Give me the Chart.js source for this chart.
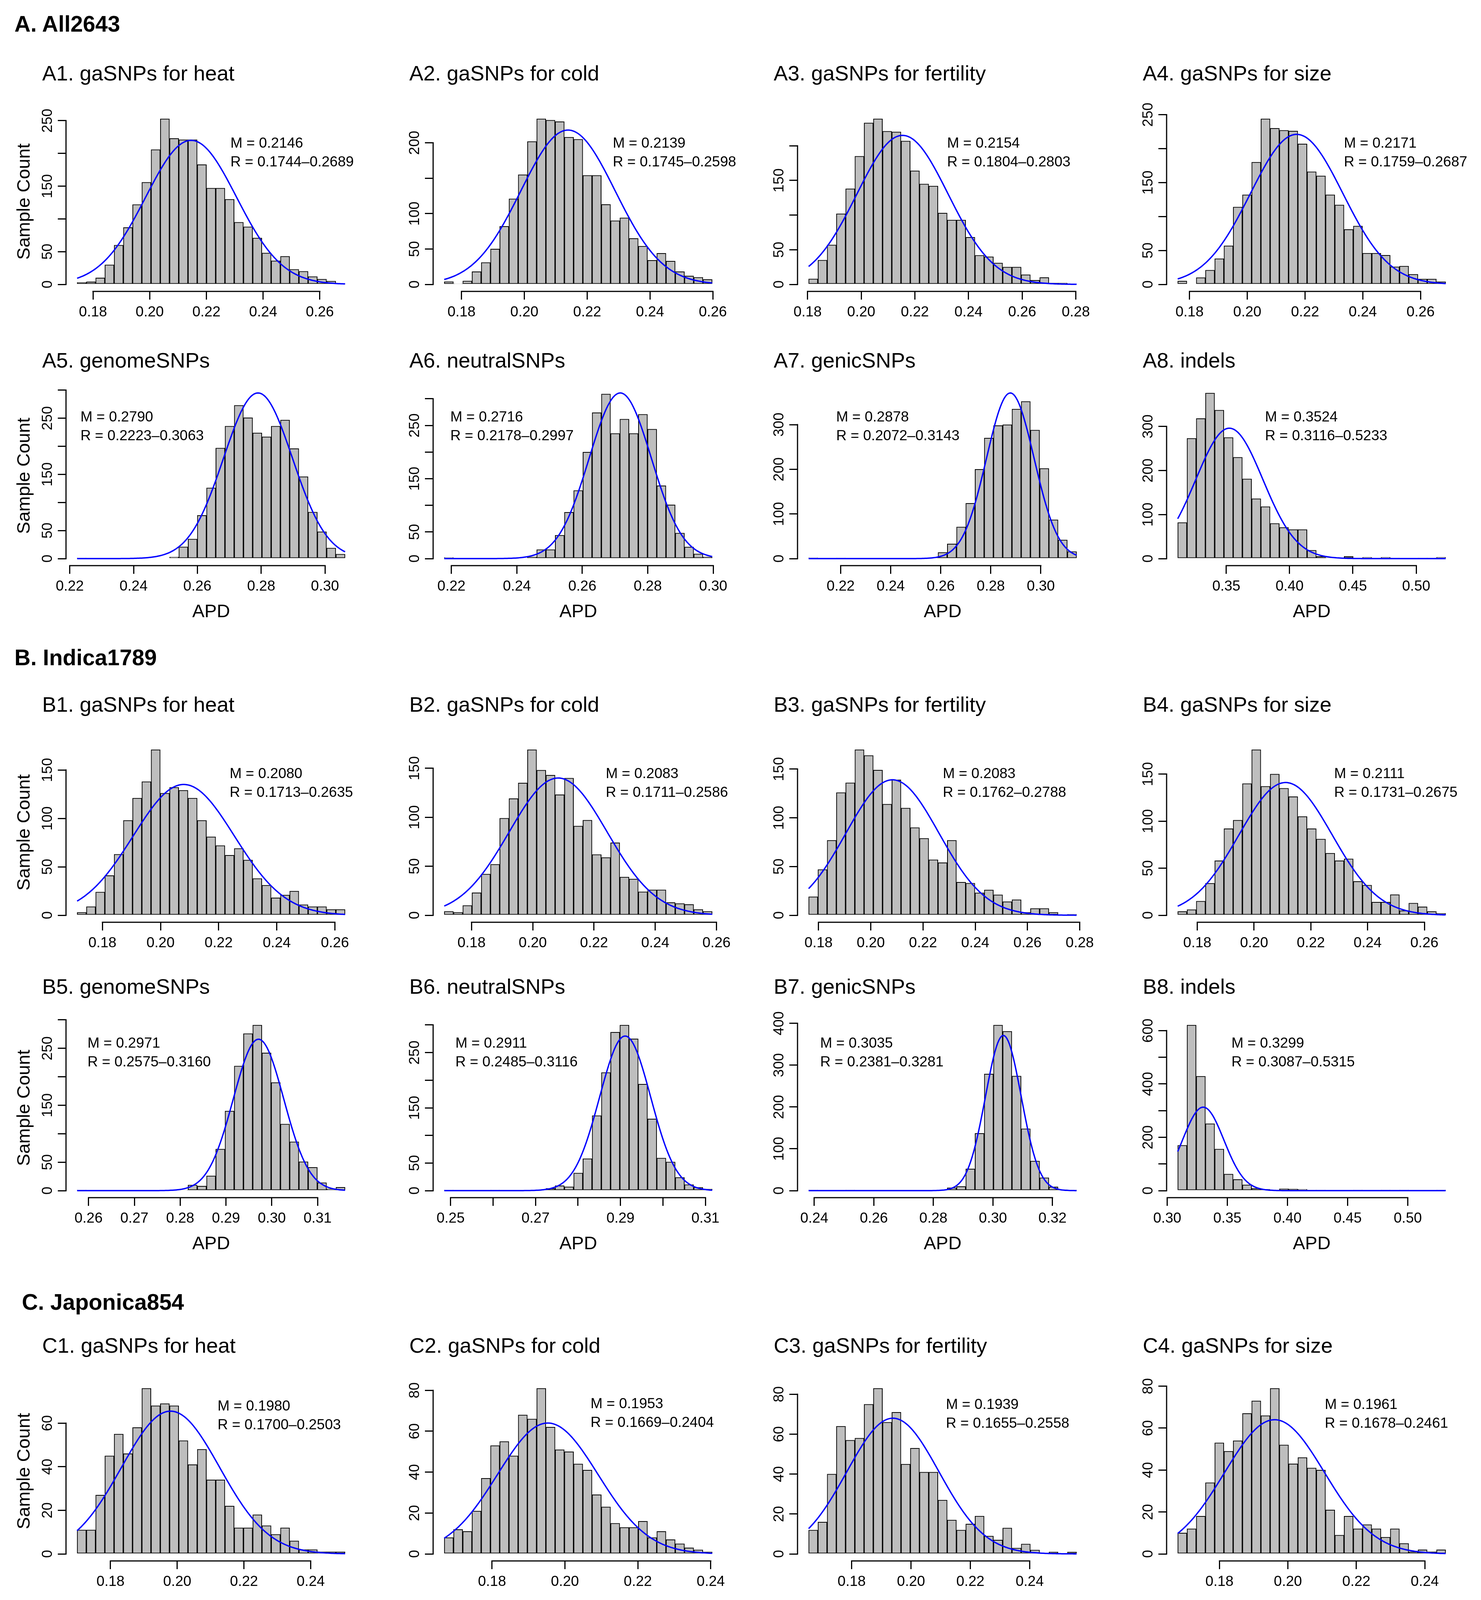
<!DOCTYPE html>
<html><head><meta charset="utf-8">
<script src="https://cdn.jsdelivr.net/npm/chart.js@4.4.1/dist/chart.umd.min.js"></script>
<style>
html,body{margin:0;padding:0;background:#fff;}
body{width:3792px;height:4872px;position:relative;overflow:hidden;font-family:'Liberation Sans',Arial,sans-serif;}
.sec{position:absolute;font-weight:bold;font-size:57px;line-height:1;white-space:nowrap;color:#000;}
.ptitle{position:absolute;font-size:54px;line-height:1;white-space:nowrap;color:#000;}
canvas{position:absolute;}
</style></head><body>
<script>
// ---------------- DATA ----------------
const sectionTitles = ['A. All2643', 'B. Indica1789', 'C. Japonica854'];
const panelTitles = [
  'A1. gaSNPs for heat','A2. gaSNPs for cold','A3. gaSNPs for fertility','A4. gaSNPs for size',
  'A5. genomeSNPs','A6. neutralSNPs','A7. genicSNPs','A8. indels',
  'B1. gaSNPs for heat','B2. gaSNPs for cold','B3. gaSNPs for fertility','B4. gaSNPs for size',
  'B5. genomeSNPs','B6. neutralSNPs','B7. genicSNPs','B8. indels',
  'C1. gaSNPs for heat','C2. gaSNPs for cold','C3. gaSNPs for fertility','C4. gaSNPs for size',
  'C5. genomeSNPs','C6. neutralSNPs','C7. genicSNPs','C8. indels'
];
// sample counts per histogram bin (29 equal bins between the min and max APD)
const countsA1 = [3,4,10,30,60,87,122,156,206,253,223,221,221,183,147,147,130,95,88,71,48,36,43,23,20,12,8,5,1];
const countsA2 = [4,1,5,18,31,50,82,121,155,202,234,232,230,208,205,154,154,113,90,94,65,54,34,44,33,18,12,10,7];
const countsA3 = [8,35,57,102,138,185,233,239,221,220,207,164,145,142,103,93,93,68,42,40,31,25,25,14,6,10,2,2,1];
const countsA4 = [5,0,10,21,38,57,114,132,180,244,230,227,226,207,166,160,132,117,81,86,46,46,43,26,27,15,8,8,4];
const countsA5 = [1,0,0,0,0,0,0,0,0,0,3,21,35,77,126,197,236,273,251,224,217,236,247,196,146,83,48,19,8];
const countsA6 = [2,0,0,0,0,0,0,0,0,3,17,17,44,87,128,200,274,309,235,262,235,271,243,137,101,48,22,9,3];
const countsA7 = [2,0,0,1,0,0,0,0,0,0,0,0,0,2,14,33,71,124,200,270,298,300,335,352,288,202,87,42,16];
const countsA8 = [82,273,318,376,337,275,230,181,136,118,80,71,66,66,19,5,2,1,5,1,3,1,3,1,0,0,1,1,3];
const countsB1 = [3,9,24,41,63,98,121,138,171,126,132,129,121,98,81,72,62,69,57,38,31,18,21,25,11,9,9,6,6];
const countsB2 = [4,3,10,23,42,52,99,119,135,169,148,143,123,140,91,97,62,59,74,39,37,24,26,26,13,12,11,6,4];
const countsB3 = [19,47,77,126,136,170,164,149,114,139,110,90,79,57,54,77,34,33,23,26,21,14,16,3,7,7,3,0,1];
const countsB4 = [4,6,15,34,58,92,101,140,176,137,150,135,126,105,92,81,66,58,60,36,32,14,14,22,5,13,9,4,2];
const countsB5 = [1,0,0,0,0,0,0,0,0,0,0,1,10,8,26,73,140,219,276,291,242,190,117,86,51,41,14,3,6];
const countsB6 = [1,0,0,0,0,1,0,0,0,0,1,4,9,7,32,58,136,214,287,300,275,193,130,59,52,24,11,6,3];
const countsB7 = [1,0,0,0,1,0,0,0,0,0,0,0,0,0,1,7,10,52,137,279,396,381,274,148,71,31,9,2,1];
const countsB8 = [170,621,429,251,156,62,42,22,9,5,3,7,6,5,1,1,0,0,0,1,0,0,1,0,1,0,0,0,1];
const countsC1 = [11,11,27,45,55,46,58,76,68,69,68,52,41,48,34,34,22,12,12,18,13,9,12,6,2,2,1,1,1];
const countsC2 = [8,12,11,21,37,53,55,48,68,66,81,62,51,50,44,41,29,23,15,13,13,16,8,11,7,5,3,2,1];
const countsC3 = [12,16,40,64,57,58,75,83,66,71,45,53,41,41,27,17,12,15,19,9,7,13,3,5,2,0,1,0,1];
const countsC4 = [10,12,18,34,53,49,54,67,73,66,79,52,43,46,41,40,21,9,18,12,14,12,8,12,5,1,2,1,2];
const countsC5 = [12,29,39,54,49,66,69,96,103,87,80,76,53,21,9,4,3,1,0,1,0,0,0,0,0,0,0,0,2];
const countsC6 = [12,27,36,47,55,63,71,100,102,90,83,64,53,28,12,3,3,2,1,1,0,0,0,0,0,0,0,0,2];
const countsC7 = [14,17,38,43,47,68,80,93,111,130,91,66,26,13,10,3,1,1,1,0,0,0,0,0,0,0,0,0,2];
const countsC8 = [94,110,92,107,110,112,86,51,27,31,14,6,3,6,2,0,0,2,0,0,1,0,0,0,0,0,0,0,1];

const meanAPD  = [0.2146,0.2139,0.2154,0.2171,0.2790,0.2716,0.2878,0.3524,
                  0.2080,0.2083,0.2083,0.2111,0.2971,0.2911,0.3035,0.3299,
                  0.1980,0.1953,0.1939,0.1961,0.2949,0.2974,0.3079,0.1414];
const rangeMin = [0.1744,0.1745,0.1804,0.1759,0.2223,0.2178,0.2072,0.3116,
                  0.1713,0.1711,0.1762,0.1731,0.2575,0.2485,0.2381,0.3087,
                  0.1700,0.1669,0.1655,0.1678,0.2584,0.2627,0.2675,0.1095];
const rangeMax = [0.2689,0.2598,0.2803,0.2687,0.3063,0.2997,0.3143,0.5233,
                  0.2635,0.2586,0.2788,0.2675,0.3160,0.3116,0.3281,0.5315,
                  0.2503,0.2404,0.2558,0.2461,0.3919,0.3879,0.4151,0.3152];
// fitted normal curve (blue): spread and peak height
const curveSD   = [0.0160,0.0150,0.0170,0.0160,0.0108,0.0095,0.0095,0.0265,
                   0.0174,0.0160,0.0178,0.0164,0.0055,0.0060,0.0060,0.0172,
                   0.0147,0.0138,0.0155,0.0146,0.0160,0.0149,0.0167,0.0215];
const curvePeak = [220,218,215,221,295,311,371,296,
                   135,140,139,141,266,280,371,313,
                   65.5,64,68,64,97,98,105.6,111.5];

// tick values and tick labels ('' = tick without label)
const xTickVals = [
  [0.18,0.20,0.22,0.24,0.26],[0.18,0.20,0.22,0.24,0.26],[0.18,0.20,0.22,0.24,0.26,0.28],[0.18,0.20,0.22,0.24,0.26],
  [0.22,0.24,0.26,0.28,0.30],[0.22,0.24,0.26,0.28,0.30],[0.22,0.24,0.26,0.28,0.30],[0.35,0.40,0.45,0.50],
  [0.18,0.20,0.22,0.24,0.26],[0.18,0.20,0.22,0.24,0.26],[0.18,0.20,0.22,0.24,0.26,0.28],[0.18,0.20,0.22,0.24,0.26],
  [0.26,0.27,0.28,0.29,0.30,0.31],[0.25,0.26,0.27,0.28,0.29,0.30,0.31],[0.24,0.26,0.28,0.30,0.32],[0.30,0.35,0.40,0.45,0.50],
  [0.18,0.20,0.22,0.24],[0.18,0.20,0.22,0.24],[0.18,0.20,0.22,0.24],[0.18,0.20,0.22,0.24],
  [0.26,0.28,0.30,0.32,0.34,0.36,0.38],[0.26,0.28,0.30,0.32,0.34,0.36,0.38],[0.30,0.35,0.40],[0.15,0.20,0.25,0.30]
];
const xTickText = [
  ['0.18','0.20','0.22','0.24','0.26'],['0.18','0.20','0.22','0.24','0.26'],['0.18','0.20','0.22','0.24','0.26','0.28'],['0.18','0.20','0.22','0.24','0.26'],
  ['0.22','0.24','0.26','0.28','0.30'],['0.22','0.24','0.26','0.28','0.30'],['0.22','0.24','0.26','0.28','0.30'],['0.35','0.40','0.45','0.50'],
  ['0.18','0.20','0.22','0.24','0.26'],['0.18','0.20','0.22','0.24','0.26'],['0.18','0.20','0.22','0.24','0.26','0.28'],['0.18','0.20','0.22','0.24','0.26'],
  ['0.26','0.27','0.28','0.29','0.30','0.31'],['0.25','','0.27','','0.29','','0.31'],['0.24','0.26','0.28','0.30','0.32'],['0.30','0.35','0.40','0.45','0.50'],
  ['0.18','0.20','0.22','0.24'],['0.18','0.20','0.22','0.24'],['0.18','0.20','0.22','0.24'],['0.18','0.20','0.22','0.24'],
  ['0.26','','0.30','','0.34','','0.38'],['0.26','','0.30','','0.34','','0.38'],['0.30','0.35','0.40'],['0.15','0.20','0.25','0.30']
];
const yTickVals = [
  [0,50,100,150,200,250],[0,50,100,150,200],[0,50,100,150,200],[0,50,100,150,200,250],
  [0,50,100,150,200,250,300],[0,50,100,150,200,250,300],[0,100,200,300],[0,100,200,300],
  [0,50,100,150],[0,50,100,150],[0,50,100,150],[0,50,100,150],
  [0,50,100,150,200,250,300],[0,50,100,150,200,250,300],[0,100,200,300,400],[0,100,200,300,400,500,600],
  [0,20,40,60],[0,20,40,60,80],[0,20,40,60,80],[0,20,40,60,80],
  [0,20,40,60,80,100],[0,20,40,60,80,100],[0,20,40,60,80,100,120],[0,20,40,60,80,100]
];
const yTickText = [
  ['0','50','','150','','250'],['0','50','100','','200'],['0','50','','150',''],['0','50','','150','','250'],
  ['0','50','','150','','250',''],['0','50','','150','','250',''],['0','100','200','300'],['0','100','200','300'],
  ['0','50','100','150'],['0','50','100','150'],['0','50','100','150'],['0','50','100','150'],
  ['0','50','','150','','250',''],['0','50','','150','','250',''],['0','100','200','300','400'],['0','','200','','400','','600'],
  ['0','20','40','60'],['0','20','40','60','80'],['0','20','40','60','80'],['0','20','40','60','80'],
  ['0','20','40','60','80',''],['0','20','40','60','80',''],['0','','40','','80','','120'],['0','20','','60','','100','']
];
const xAxisTitle = 'APD';
const yAxisTitle = 'Sample Count';

// ---------------- LAYOUT ----------------
const allCounts = [countsA1,countsA2,countsA3,countsA4,countsA5,countsA6,countsA7,countsA8,
                   countsB1,countsB2,countsB3,countsB4,countsB5,countsB6,countsB7,countsB8,
                   countsC1,countsC2,countsC3,countsC4,countsC5,countsC6,countsC7,countsC8];
const FONT = "'Liberation Sans', Arial, sans-serif";
Chart.defaults.font.family = FONT;
const sectionPos = [[37,62],[37,1684],[56,3334]];
const axisX = [170,1110,2043,2988];
const plotTop = [287,989,1902,2607,3537,4241];
const titleMid = [187,922,1803,2525,3444,4159];
const annotPos = [[420,81],[459,81],[382,81],[453,81],[36,80],[43,80],[98,80],[251,80],
                  [418,80],[441,80],[371,80],[428,80],[54,65],[56,65],[57,65],[165,65],
                  [387,64],[402,58],[379,60],[404,60],[371,60],[372,60],[363,60],[299,60]];
const PLOT_W = 741, PLOT_H = 458, PAD_L = 35, Y_BOX = 135, PAD_T = 30, PAD_R = 90, X_BOX = 148, PAD_B = 6;
const TICK_FS = 37, LAB_FS = 47, TL = 22;

sectionTitles.forEach((s, i) => {
  const d = document.createElement('div'); d.className = 'sec'; d.textContent = s;
  d.style.left = sectionPos[i][0] + 'px'; d.style.top = (sectionPos[i][1] - 29) + 'px';
  document.body.appendChild(d);
});

const mctx = document.createElement('canvas').getContext('2d');
mctx.font = TICK_FS + 'px ' + FONT;

const rAxes = {
  id: 'rAxes',
  afterDraw(chart, args, o) {
    const {ctx, chartArea: ca} = chart; const x = chart.scales.x, y = chart.scales.y;
    ctx.save();
    ctx.strokeStyle = '#000'; ctx.lineWidth = 3; ctx.lineCap = 'square';
    ctx.beginPath();
    ctx.moveTo(x.getPixelForValue(o.x0), ca.bottom + 1); ctx.lineTo(x.getPixelForValue(o.x1), ca.bottom + 1);
    ctx.moveTo(ca.left - 1, y.getPixelForValue(0)); ctx.lineTo(ca.left - 1, y.getPixelForValue(o.y1));
    ctx.stroke();
    ctx.fillStyle = '#000'; ctx.font = TICK_FS + 'px ' + FONT; ctx.textAlign = 'left'; ctx.textBaseline = 'middle';
    ctx.fillText(o.m, ca.left + o.ax, ca.top + o.ay);
    ctx.fillText(o.r, ca.left + o.ax, ca.top + o.ay + 48);
    ctx.restore();
  }
};

panelTitles.forEach((title, i) => {
  const row = Math.floor(i / 4), col = i % 4;
  const t = document.createElement('div'); t.className = 'ptitle'; t.textContent = title;
  t.style.left = (axisX[col] - 62) + 'px'; t.style.top = (titleMid[row] - 27) + 'px';
  document.body.appendChild(t);

  const W = PAD_L + Y_BOX + PLOT_W + PAD_R, H = PAD_T + PLOT_H + X_BOX + PAD_B;
  const cv = document.createElement('canvas');
  cv.width = W; cv.height = H;
  cv.style.width = W + 'px'; cv.style.height = H + 'px';
  cv.style.left = (axisX[col] - PAD_L - Y_BOX) + 'px';
  cv.style.top = (plotTop[row] - PAD_T) + 'px';
  document.body.appendChild(cv);

  const cnt = allCounts[i], lo = rangeMin[i], hi = rangeMax[i];
  const bw = (hi - lo) / cnt.length;
  const bars = cnt.map((c, k) => ({x: lo + (k + 0.5) * bw, y: c}));
  const curve = [];
  const NP = 200;
  for (let k = 0; k <= NP; k++) {
    const xv = lo + (hi - lo) * k / NP;
    const z = (xv - meanAPD[i]) / curveSD[i];
    curve.push({x: xv, y: curvePeak[i] * Math.exp(-0.5 * z * z)});
  }
  const ymax = Math.max(Math.max(...cnt), curvePeak[i]);
  const xr = hi - lo;
  let widest = 0;
  yTickText[i].forEach(s => { widest = Math.max(widest, mctx.measureText(s).width); });
  const yPad = 47 - TL - widest / 2;
  const xt = xTickVals[i], yt = yTickVals[i];
  const bottomRow = row % 2 === 1;

  new Chart(cv, {
    type: 'bar',
    data: {
      datasets: [
        {type: 'line', data: curve, borderColor: '#0000FF', borderWidth: 3.5, pointRadius: 0, tension: 0, fill: false},
        {type: 'bar', data: bars, backgroundColor: '#BEBEBE', borderColor: '#000000', borderWidth: 2,
         borderSkipped: false, barPercentage: 1, categoryPercentage: 1, grouped: false}
      ]
    },
    options: {
      responsive: false, animation: false, devicePixelRatio: 1, events: [],
      layout: {padding: {left: PAD_L, top: PAD_T, right: PAD_R, bottom: PAD_B}},
      plugins: {
        legend: {display: false}, tooltip: {enabled: false}, title: {display: false},
        rAxes: {x0: xt[0], x1: xt[xt.length - 1], y1: yt[yt.length - 1],
                m: 'M = ' + meanAPD[i].toFixed(4),
                r: 'R = ' + rangeMin[i].toFixed(4) + '\u2013' + rangeMax[i].toFixed(4),
                ax: annotPos[i][0], ay: annotPos[i][1]}
      },
      scales: {
        x: {
          type: 'linear', offset: false, bounds: 'data', min: lo - 0.04 * xr, max: hi + 0.04 * xr,
          afterBuildTicks: s => { s.ticks = xt.map(v => ({value: v})); },
          afterFit: s => { s.height = X_BOX; },
          border: {display: false},
          grid: {offset: false, drawOnChartArea: false, drawTicks: true, tickLength: TL, tickWidth: 3, lineWidth: 3, tickColor: '#000', color: '#000'},
          ticks: {autoSkip: false, minRotation: 0, maxRotation: 0, padding: 11, color: '#000',
                  font: {size: TICK_FS}, callback: (v, idx) => xTickText[i][idx]},
          title: {display: bottomRow, text: xAxisTitle, color: '#000', font: {size: LAB_FS}, padding: 0}
        },
        y: {
          type: 'linear', offset: false, bounds: 'data', min: -0.04 * ymax, max: 1.04 * ymax,
          afterBuildTicks: s => { s.ticks = yt.map(v => ({value: v})); },
          afterFit: s => { s.width = Y_BOX; },
          border: {display: false},
          grid: {offset: false, drawOnChartArea: false, drawTicks: true, tickLength: TL, tickWidth: 3, lineWidth: 3, tickColor: '#000', color: '#000'},
          ticks: {autoSkip: false, minRotation: 90, maxRotation: 90, crossAlign: 'center', padding: yPad, color: '#000',
                  font: {size: TICK_FS}, callback: (v, idx) => yTickText[i][idx]},
          title: {display: col === 0, text: yAxisTitle, color: '#000', font: {size: LAB_FS}, padding: 0}
        }
      }
    },
    plugins: [rAxes]
  });
});
</script>
</body></html>
